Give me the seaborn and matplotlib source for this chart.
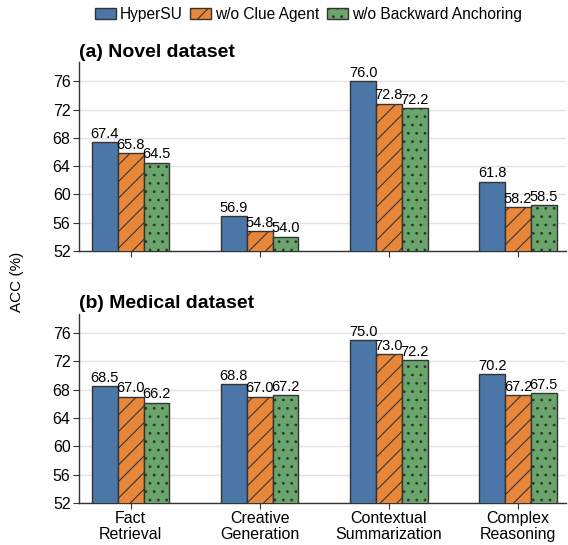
import matplotlib
matplotlib.use("Agg")
import matplotlib.pyplot as plt
import seaborn as sns
import pandas as pd

# values
tasks = ["Fact\nRetrieval", "Creative\nGeneration", "Contextual\nSummarization", "Complex\nReasoning"]
methods = ["HyperSU", "w/o Clue Agent", "w/o Backward Anchoring"]
novel_hypersu = [67.4, 56.9, 76.0, 61.8]
novel_no_clue = [65.8, 54.8, 72.8, 58.2]
novel_no_anchor = [64.5, 54.0, 72.2, 58.5]
medical_hypersu = [68.5, 68.8, 75.0, 70.2]
medical_no_clue = [67.0, 67.0, 73.0, 67.2]
medical_no_anchor = [66.2, 67.2, 72.2, 67.5]

colors = ["#4a76a8", "#e8873a", "#6aa66b"]
hatches = ["", "//", ".."]


def make_df(a, b, c):
    rows = []
    for vals, m in zip([a, b, c], methods):
        for t, v in zip(tasks, vals):
            rows.append({"task": t, "method": m, "acc": v})
    return pd.DataFrame(rows)


sns.set_style("whitegrid")
plt.rcParams["font.family"] = ["Liberation Sans", "DejaVu Sans"]
plt.rcParams.update({
    "text.color": "black",
    "axes.labelcolor": "black",
    "axes.edgecolor": "#333333",
    "axes.linewidth": 1.0,
    "grid.color": "#e2e2e2",
    "grid.linewidth": 1.0,
    "xtick.bottom": True,
    "ytick.left": True,
    "xtick.major.size": 4,
    "ytick.major.size": 4,
    "xtick.color": "#333333",
    "ytick.color": "#333333",
    "xtick.labelcolor": "black",
    "ytick.labelcolor": "black",
    "hatch.linewidth": 0.8,
    "hatch.color": "#333333",
})

fig = plt.figure(figsize=(5.68, 5.45), dpi=100)
ax1 = fig.add_axes([0.139, 0.5394, 0.857, 0.3466])
ax2 = fig.add_axes([0.139, 0.077, 0.857, 0.3468])

panels = [
    (ax1, make_df(novel_hypersu, novel_no_clue, novel_no_anchor), "(a) Novel dataset"),
    (ax2, make_df(medical_hypersu, medical_no_clue, medical_no_anchor), "(b) Medical dataset"),
]

for ax, df, title in panels:
    sns.barplot(data=df, x="task", y="acc", hue="method", hue_order=methods,
                palette=colors, saturation=1, width=0.6, errorbar=None, legend=False,
                edgecolor="#333333", linewidth=1.0, ax=ax, zorder=3)
    for cont, h in zip(ax.containers, hatches):
        for p in cont.patches:
            p.set_hatch(h)
        ax.bar_label(cont, fmt="%.1f", padding=1, fontsize=10.5)
    ax.set_ylim(52, 78.7)
    ax.set_xlim(-0.4, 3.37)
    ax.set_yticks(range(52, 77, 4))
    ax.tick_params(axis="both", labelsize=11.5, pad=2)
    ax.grid(axis="x", visible=False)
    ax.set_axisbelow(True)
    ax.spines["top"].set_visible(False)
    ax.spines["right"].set_visible(False)
    ax.set_xlabel("")
    ax.set_ylabel("")
    ax.set_title(title, loc="left", fontweight="bold", fontsize=14, pad=4)

ax1.set_xticklabels([])
ax2.set_xticklabels(tasks, fontsize=11.5, linespacing=1.05)

fig.text(0.03, 0.483, "ACC (%)", rotation=90, va="center", ha="center", fontsize=11)

fig.legend(ax1.containers, methods, loc="upper center", bbox_to_anchor=(0.543, 1.013),
           ncol=3, frameon=False, fontsize=11.2, handlelength=1.35, handleheight=0.65,
           columnspacing=0.5, handletextpad=0.25)

fig.savefig("out.png", dpi=100)
